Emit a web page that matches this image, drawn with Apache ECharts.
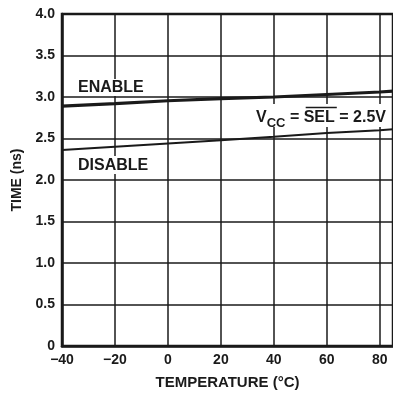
<!DOCTYPE html>
<html><head><meta charset="utf-8">
<script src="https://cdn.jsdelivr.net/npm/echarts@6/dist/echarts.min.js"></script>
<style>html,body{margin:0;padding:0;background:#fff}#c{width:393px;height:395px}</style>
</head><body><div id="c"></div>
<script>
var temps = [-40, -20, 0, 20, 40, 60, 80, 85];
var enableNs = [2.89, 2.92, 2.955, 2.98, 3.00, 3.03, 3.06, 3.07];
var disableNs = [2.36, 2.40, 2.44, 2.48, 2.52, 2.565, 2.60, 2.61];
var yTicks = ['0', '0.5', '1.0', '1.5', '2.0', '2.5', '3.0', '3.5', '4.0'];

var FONT = '"Liberation Sans", Arial, sans-serif';
var INK = '#1a1a1a';
function pairs(xs, ys){ return xs.map(function(x,i){ return [x, ys[i]]; }); }

// measure widths for the overline above SEL
var ctx = document.createElement('canvas').getContext('2d');
function w(t, size){ ctx.font = 'bold ' + size + 'px ' + FONT; return ctx.measureText(t).width; }
var labX = 256, padL = 2, labTop = 109;
var selStart = labX + padL + w('V', 16) + w('CC', 13) + w(' = ', 16);
var selEnd = selStart + w('SEL', 16);
var labEnd = selEnd + w(' = 2.5V', 16) + 3;

var chart = echarts.init(document.getElementById('c'));
chart.setOption({
  animation: false,
  grid: { left: 62, right: -4, top: 14, bottom: 48, show: true, borderColor: INK, borderWidth: 2.5, containLabel: false },
  xAxis: {
    type: 'value', min: -40, max: 85, interval: 20,
    name: 'TEMPERATURE (°C)', nameLocation: 'middle', nameGap: 29,
    nameTextStyle: { fontFamily: FONT, fontWeight: 'bold', fontSize: 15, color: INK },
    axisLine: { show: true, onZero: false, lineStyle: { color: INK, width: 2.5 } },
    axisTick: { show: false },
    axisLabel: { margin: 7, fontFamily: FONT, fontWeight: 'bold', fontSize: 14, color: INK,
      formatter: function(v){ return v < 0 ? '\u2212' + Math.abs(v) : String(v); } },
    splitLine: { show: true, lineStyle: { color: INK, width: 1.5 } }
  },
  yAxis: {
    type: 'value', min: 0, max: 4, interval: 0.5,
    name: 'TIME (ns)', nameLocation: 'middle', nameGap: 38,
    nameTextStyle: { fontFamily: FONT, fontWeight: 'bold', fontSize: 14, color: INK },
    axisLine: { show: true, onZero: false, lineStyle: { color: INK, width: 2.5 } },
    axisTick: { show: false },
    axisLabel: { margin: 7, fontFamily: FONT, fontWeight: 'bold', fontSize: 14, color: INK,
      formatter: function(v){ return yTicks[Math.round(v * 2)]; } },
    splitLine: { show: true, lineStyle: { color: INK, width: 1.5 } }
  },
  series: [
    { name: 'ENABLE', type: 'line', data: pairs(temps, enableNs), showSymbol: false, symbol: 'none',
      lineStyle: { color: INK, width: 3.2 }, z: 5 },
    { name: 'DISABLE', type: 'line', data: pairs(temps, disableNs), showSymbol: false, symbol: 'none',
      lineStyle: { color: INK, width: 2 }, z: 5 }
  ],
  graphic: [
    { type: 'text', left: 77, top: 79, z: 10,
      style: { text: 'ENABLE', fontFamily: FONT, fontWeight: 'bold', fontSize: 16, fill: INK, backgroundColor: '#fff', padding: [1, 1, 0, 1] } },
    { type: 'text', left: 77, top: 156, z: 10,
      style: { text: 'DISABLE', fontFamily: FONT, fontWeight: 'bold', fontSize: 16, fill: INK, backgroundColor: '#fff', padding: [2, 1, 0, 1] } },
    { type: 'rect', z: 9, shape: { x: labX, y: 104, width: labEnd - labX, height: 23 }, style: { fill: '#fff' } },
    { type: 'text', left: labX, top: labTop, z: 10,
      style: {
        text: '{m|V}{s|CC}{m| = SEL = 2.5V}',
        padding: [2, 2, 0, padL],
        rich: {
          m: { fontFamily: FONT, fontWeight: 'bold', fontSize: 16, lineHeight: 16, fill: INK, padding: [0, 0, 4, 0], verticalAlign: 'bottom' },
          s: { fontFamily: FONT, fontWeight: 'bold', fontSize: 13, lineHeight: 13, fill: INK, padding: [8, 0, 0, 0], verticalAlign: 'bottom' }
        }
      } },
    { type: 'line', z: 11, shape: { x1: selStart, y1: 107.5, x2: selEnd, y2: 107.5 }, style: { stroke: INK, lineWidth: 1.5 } }
  ]
});
</script></body></html>
